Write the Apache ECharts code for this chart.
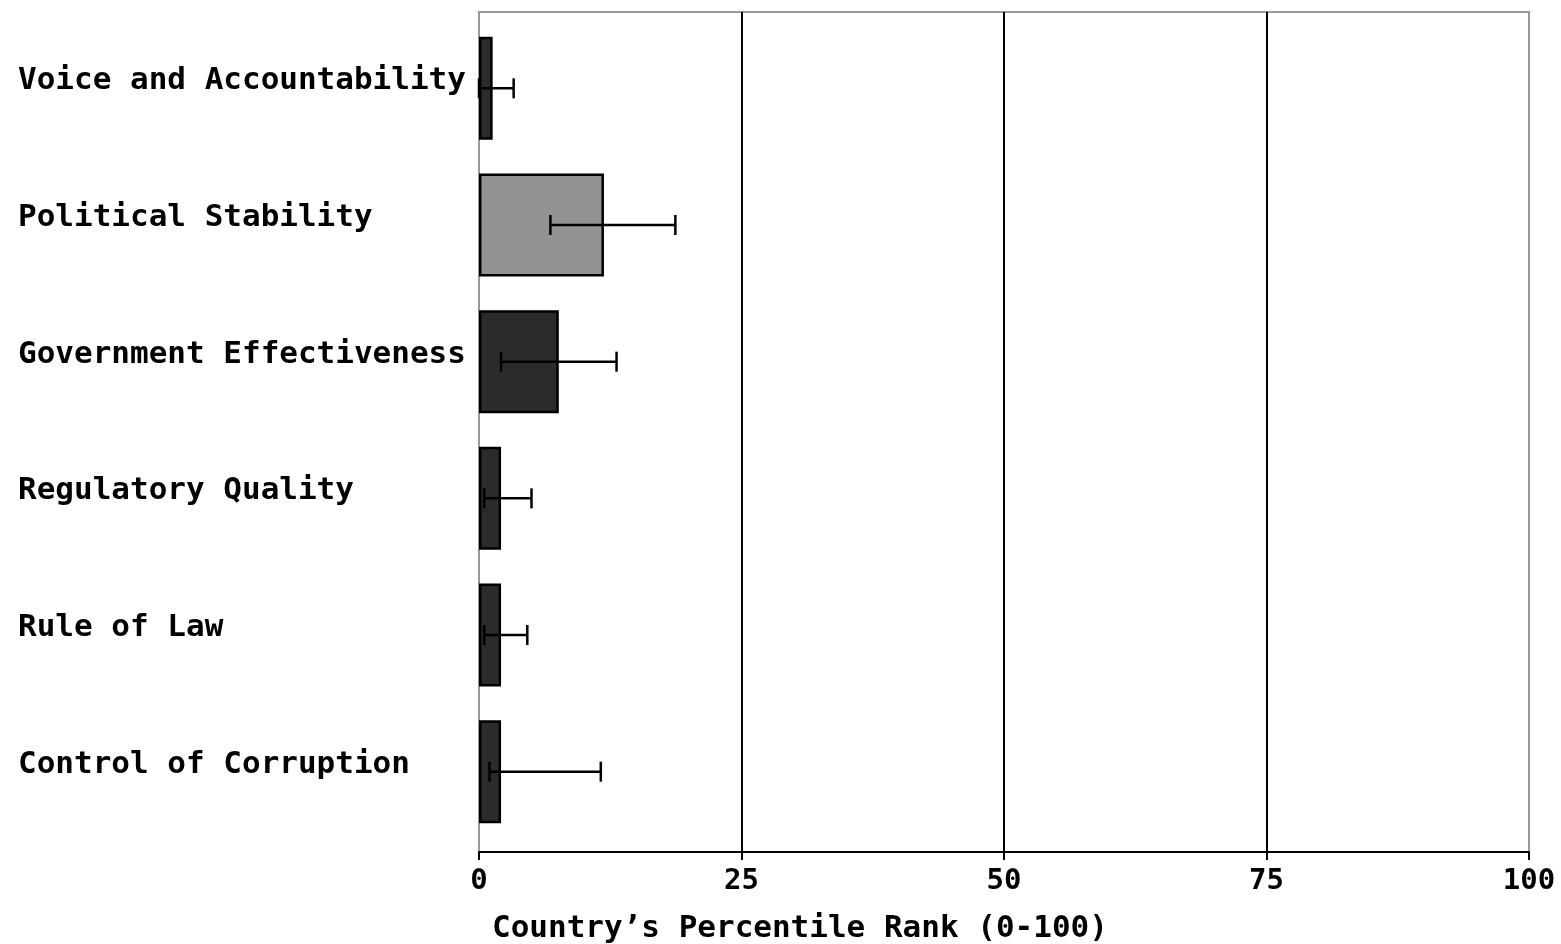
<!DOCTYPE html>
<html>
<head>
<meta charset="utf-8">
<script src="https://cdn.jsdelivr.net/npm/echarts@6/dist/echarts.min.js"></script>
<style>html,body{margin:0;padding:0;background:#fff;}#main{width:1561px;height:944px;}</style>
</head>
<body>
<div id="main"></div>
<script>
var categories = ["Voice and Accountability","Political Stability","Government Effectiveness","Regulatory Quality","Rule of Law","Control of Corruption"];
var rankValues = [1.3, 11.9, 7.6, 2.1, 2.1, 2.1];
var errorLow = [0, 6.8, 2.1, 0.5, 0.5, 1.0];
var errorHigh = [3.3, 18.7, 13.1, 5.0, 4.6, 11.6];
var xTicks = [0, 25, 50, 75, 100];
var axisTitle = "Country\u2019s Percentile Rank (0-100)";

var FONT = "DejaVu Sans Mono";
var chart = echarts.init(document.getElementById('main'), null, {renderer: 'canvas'});

var barData = rankValues.map(function (v, i) {
  return {value: v, itemStyle: {color: i === 1 ? '#939393' : '#2b2b2b'}};
});
var errData = categories.map(function (c, i) { return [i, errorLow[i], errorHigh[i]]; });

chart.setOption({
  backgroundColor: '#ffffff',
  animation: false,
  title: {
    text: axisTitle,
    left: 492, top: 913,
    padding: 0,
    textStyle: {fontFamily: FONT, fontSize: 31, fontWeight: 'bold', color: '#000'}
  },
  grid: [
    {left: 479, right: 32, top: 12, bottom: 92, show: true, borderColor: '#999', borderWidth: 2, backgroundColor: 'transparent'},
    {left: 479, right: 32, top: 20, bottom: 104}
  ],
  xAxis: [
    {
      gridIndex: 0, type: 'value', min: xTicks[0], max: xTicks[xTicks.length - 1], interval: 25,
      axisLine: {show: true, lineStyle: {color: '#000', width: 2}},
      axisTick: {show: true, length: 8, lineStyle: {color: '#000', width: 2}},
      axisLabel: {show: true, margin: 15, color: '#000', fontFamily: FONT, fontSize: 29, fontWeight: 'bold'},
      splitLine: {show: true, showMinLine: false, showMaxLine: false, lineStyle: {color: '#000', width: 2}}
    },
    {
      gridIndex: 1, type: 'value', min: 0, max: 100, show: false
    }
  ],
  yAxis: [
    {gridIndex: 0, type: 'value', show: false},
    {
      gridIndex: 1, type: 'category', inverse: true, data: categories,
      axisLine: {show: false}, axisTick: {show: false}, splitLine: {show: false},
      axisLabel: {
        show: true, align: 'left', verticalAlign: 'bottom', lineHeight: 14, margin: 461, color: '#000',
        fontFamily: FONT, fontSize: 31, fontWeight: 'bold'
      }
    }
  ],
  series: [
    {
      type: 'bar', xAxisIndex: 1, yAxisIndex: 1, data: barData, barWidth: 103,
      itemStyle: {borderColor: '#000', borderWidth: 2.5}, z: 3
    },
    {
      type: 'custom', xAxisIndex: 1, yAxisIndex: 1, data: errData, z: 5,
      renderItem: function (params, api) {
        var idx = api.value(0);
        var p1 = api.coord([api.value(1), idx]);
        var p2 = api.coord([api.value(2), idx]);
        var h = 10;
        var style = {stroke: '#000', lineWidth: 2.5};
        return {
          type: 'group',
          children: [
            {type: 'line', shape: {x1: p1[0], y1: p1[1], x2: p2[0], y2: p2[1]}, style: style},
            {type: 'line', shape: {x1: p1[0], y1: p1[1] - h, x2: p1[0], y2: p1[1] + h}, style: style},
            {type: 'line', shape: {x1: p2[0], y1: p2[1] - h, x2: p2[0], y2: p2[1] + h}, style: style}
          ]
        };
      }
    }
  ]
});
</script>
</body>
</html>
